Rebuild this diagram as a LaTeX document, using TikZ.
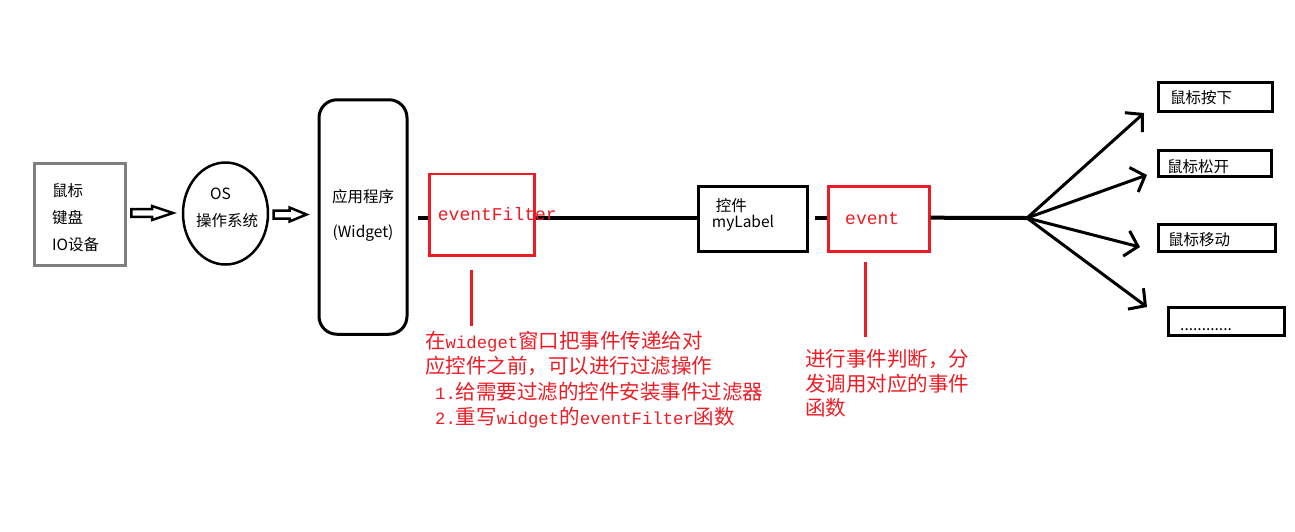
\documentclass[tikz,border=0pt]{standalone}
\usepackage{fontspec}
\setmainfont{Noto Sans CJK SC}
\newfontfamily\mono{Liberation Mono}
\usetikzlibrary{arrows.meta,shapes.geometric}
\definecolor{pred}{HTML}{ED1C24}
\definecolor{pgray}{HTML}{7F7F7F}
\newcommand\lat[1]{{\mono\fontsize{17.3}{17.3}\selectfont #1}}
\begin{document}
\begin{tikzpicture}[x=1pt,y=-1pt,
  blk/.style={draw=black,line width=3pt,inner sep=0pt},
  redbox/.style={draw=pred,line width=2.7pt,inner sep=0pt},
  txt/.style={inner sep=0pt,align=left,font=\fontsize{15.5}{27}\selectfont},
  rtxt/.style={inner sep=0pt,text=pred,align=left,font=\fontsize{20.5}{25.5}\selectfont},
  mtxt/.style={inner sep=0pt,text=pred,font=\mono\fontsize{18}{18}\selectfont},
  mainline/.style={line width=4pt},
  fan/.style={line width=3pt,-{Straight Barb[length=12pt,width=26pt]}},
  hollow/.style={draw=black,line width=2.5pt,line join=miter},
  stem/.style={draw=pred,line width=3pt},
]
\useasboundingbox (0,0) rectangle (1295,531);

% input devices
\node[draw=pgray,line width=3pt,minimum width=91pt,minimum height=102pt,inner sep=0pt] (dev) at (80,214) {};
\node[txt,anchor=west] (devtxt) at (52,217.5) {鼠标\\键盘\\IO设备};

% hollow arrow 1
\draw[hollow] (131.3,209.2) -- (152,209.2) -- (152,206) -- (173,213) -- (152,220) -- (152,216.8) -- (131.3,216.8) -- cycle;

% OS
\node[draw,ellipse,line width=2.5pt,minimum width=85pt,minimum height=102pt,inner sep=0pt] (os) at (225.5,213.5) {};
\node[txt,anchor=west] (ostxt) at (196,208) {\hspace*{14pt}OS\\操作系统};

% hollow arrow 2
\draw[hollow] (273.5,210.5) -- (289.5,210.5) -- (289.5,207.5) -- (306.5,214.5) -- (289.5,221.5) -- (289.5,218.5) -- (273.5,218.5) -- cycle;

% application
\node[blk,rounded corners=18pt,minimum width=88pt,minimum height=234.5pt] (app) at (363,217) {};
\node[txt,align=center,font=\fontsize{15.5}{35}\selectfont] (apptxt) at (363,215) {应用程序\\(Widget)};

% eventFilter
\node[redbox,minimum width=104.7pt,minimum height=81.1pt] (efbox) at (482,214.6) {};
\coordinate (s1) at (417.5,217.7);
\draw[mainline] (s1) -- (s1 -| efbox.west);
\draw[mainline] (efbox.east |- s1) -- (s1 -| 697.3,0);

% myLabel
\node[blk,minimum width=109pt,minimum height=64.7pt] (lbl) at (753.3,218.9) {};
\node[mtxt,anchor=base west] (eftxt) at (437.7,220) {eventFilter};
\node[txt,anchor=west,font=\fontsize{15.5}{16}\selectfont] (lbltxt) at (711.7,215) {\hspace*{4pt}控件\\myLabel};

% event
\node[redbox,minimum width=100.7pt,minimum height=65pt] (evbox) at (879,218.9) {};
\node[mtxt,anchor=base west] (evtxt) at (845,224.3) {event};
\coordinate (s2) at (815,217.7);
\draw[mainline] (s2) -- (s2 -| evbox.west);
\coordinate (hub) at (1027,218);
\draw[mainline] (evbox.east |- s2) -- (hub);

% fan-out
\coordinate (t1) at (1144,113);
\coordinate (t2) at (1147,175);
\coordinate (t3) at (1140,247);
\coordinate (t4) at (1147,307);
\draw[fan] (hub) -- (t1);
\draw[fan] (hub) -- (t2);
\draw[fan] (hub) -- (t3);
\draw[fan] (hub) -- (t4);

% result boxes
\node[blk,minimum width=114pt,minimum height=29pt] (b1) at (1215.5,97) {};
\node[txt,anchor=west] (b1t) at (1170,98) {鼠标按下};
\node[blk,minimum width=113pt,minimum height=26pt] (b2) at (1215,163.5) {};
\node[txt,anchor=west] (b2t) at (1167,167) {鼠标松开};
\node[blk,minimum width=117pt,minimum height=27pt] (b3) at (1217,238) {};
\node[txt,anchor=west] (b3t) at (1168,240) {鼠标移动};
\node[blk,minimum width=116pt,minimum height=28pt] (b4) at (1226.5,321.5) {};
\node[txt,anchor=base west] (b4t) at (1180,330) {............};

% annotations
\coordinate (f1) at (471,269.5);
\coordinate (f2) at (471,326);
\draw[stem] (f1) -- (f2);
\node[rtxt,anchor=west] (note1) at (425,379.5) {在\lat{wideget}窗口把事件传递给对\\应控件之前，可以进行过滤操作\\\hspace*{10pt}\lat{1.}给需要过滤的控件安装事件过滤器\\\hspace*{10pt}\lat{2.}重写\lat{widget}的\lat{eventFilter}函数};

\coordinate (e1) at (865.7,262);
\coordinate (e2) at (865.7,336.5);
\draw[stem] (e1) -- (e2);
\node[rtxt,anchor=west,font=\fontsize{20.5}{24.5}\selectfont] (note2) at (805,383.5) {进行事件判断，分\\发调用对应的事件\\函数};
\end{tikzpicture}
\end{document}
